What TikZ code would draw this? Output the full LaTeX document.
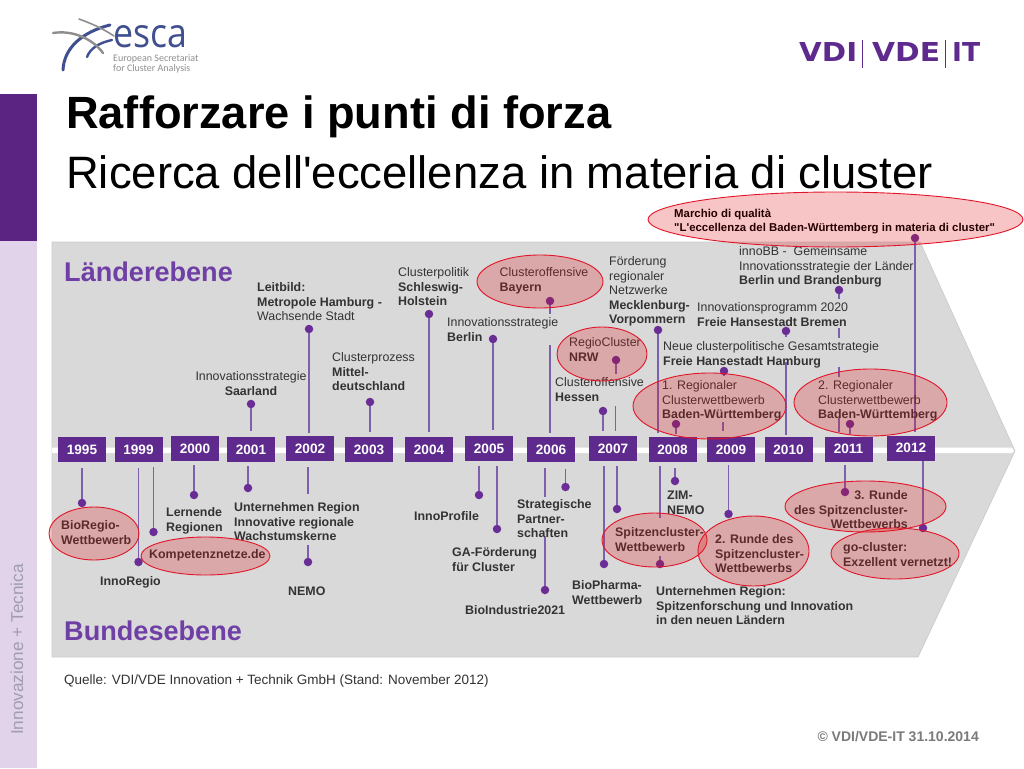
\documentclass[tikz,border=0pt]{standalone}
\usepackage{fontspec}
\usepackage{graphicx}
\setmainfont[Ligatures=TeXOff]{Liberation Sans}
\newfontfamily\logofont{Open Sans}
\newfontfamily\capfont{Carlito}
\newfontfamily\vdifont{DejaVu Sans}
\usetikzlibrary{shapes.geometric}
\definecolor{purpbox}{HTML}{5F2A8E}
\definecolor{purpbar}{HTML}{5B2483}
\definecolor{lilac}{HTML}{E0D3EA}
\definecolor{stemcol}{HTML}{7E5FAE}
\definecolor{dotcol}{HTML}{6A2D96}
\definecolor{headcol}{HTML}{6F3FA6}
\definecolor{txtcol}{HTML}{333333}
\definecolor{shapegrey}{HTML}{D9D9D9}
\definecolor{escablue}{HTML}{3F4F8F}
\definecolor{escagrey}{HTML}{8E8E8E}
\definecolor{sidegrey}{HTML}{A09EAE}
\definecolor{ovalfill}{HTML}{E01010}
\definecolor{ovalline}{HTML}{E21428}
\tikzset{
 yearbox/.style={fill=purpbox,text=white,font=\fontsize{13.6}{15}\selectfont\bfseries,minimum width=48pt,minimum height=25pt,inner sep=0pt},
 txt/.style={anchor=north west,inner sep=0pt,align=left,text=txtcol,yshift=6pt,font=\fontsize{12.4}{14.6}\selectfont},
 pindot/.style={circle,fill=dotcol,minimum size=8.5pt,inner sep=0pt},
 stem/.style={draw=stemcol,line width=1.7pt},
 oval/.style={ellipse,draw=ovalline,line width=0.9pt,fill=ovalfill,fill opacity=0.24,inner sep=0pt},
}
\newcommand{\yr}[3]{\node[yearbox] (y#1) at (#2,#3) {#1};}
\newcommand{\pinv}[4]{\node[pindot] (#1) at (#2,#3) {}; \coordinate (#1e) at (#2,#4); \draw[stem] (#1) -- (#1e);}
\newcommand{\segv}[4]{\coordinate (#1a) at (#2,#3); \coordinate (#1b) at (#2,#4); \draw[stem] (#1a) -- (#1b);}
\newcommand{\tx}[5][]{\node[txt,#1] (#2) at (#3,#4) {\strut #5};}
\newcommand{\ov}[5]{\node[oval,minimum width={#4-#3},minimum height={#5-#2}] (#1) at ({(#3+#4)/2},{(#2+#5)/2}) {};}
\begin{document}
\begin{tikzpicture}[x=1pt,y=-1pt]
\useasboundingbox (0,0) rectangle (1024,768);
\fill[white] (0,0) rectangle (1024,768);
% side bar
\fill[purpbar] (0,94) rectangle (37,241);
\fill[lilac] (0,241) rectangle (37,768);
\node[rotate=90,anchor=west,inner sep=0pt,text=sidegrey,font=\fontsize{17.2}{19}\selectfont] (side) at (17,735) {Innovazione + Tecnica};
% esca logo
\draw[escablue,line width=3pt,line cap=round] (63,70) .. controls (64,48) and (82,32) .. (110,25);
\draw[escablue,line width=2.4pt,line cap=round] (87,57) .. controls (90,49) and (98,43) .. (112,40);
\draw[escagrey,line width=2.4pt,line cap=round] (53,33) .. controls (72,30) and (92,38) .. (103,53);
\draw[escagrey,line width=1.6pt,line cap=round] (79,19) .. controls (90,23) and (102,28) .. (114,36);
\node[anchor=north west,align=left,inner sep=0pt,text=escagrey,font=\fontsize{10}{10}\selectfont\capfont] (esca) at (113,25) {\textcolor{escablue}{\resizebox{74pt}{22pt}{\logofont esca}}\\[4pt]European Secretariat\\for Cluster Analysis};
% VDI logo
\node[anchor=south west,inner sep=0pt,text=purpbox] (vdi) at (799,62) {\resizebox{58pt}{19pt}{\vdifont\bfseries VDI}};
\node[anchor=south west,inner sep=0pt,text=purpbox] (vde) at (872,62) {\resizebox{68pt}{19pt}{\vdifont\bfseries VDE}};
\node[anchor=south west,inner sep=0pt,text=purpbox] (vit) at (952,62) {\resizebox{28pt}{19pt}{\vdifont\bfseries IT}};
\draw[purpbox,line width=0.9pt] (862,40) -- (862,68);
\draw[purpbox,line width=0.9pt] (945,40) -- (945,68);
% title
\node[anchor=base west,inner sep=0pt,font=\fontsize{45.2}{48}\selectfont\bfseries] (title) at (66,128) {Rafforzare i punti di forza};
\node[anchor=base west,inner sep=0pt,font=\fontsize{45.4}{48}\selectfont] (subtitle) at (66,188) {Ricerca dell'eccellenza in materia di cluster};
% grey arrow
\draw[draw=black!20,fill=shapegrey,line width=0.7pt] (52,242) -- (920,242) -- (1015,451) -- (918,657) -- (52,657) -- cycle;
\fill[white] (52,447.5) -- (1012,447.5) -- (1014,451) -- (1012,453) -- (52,453) -- cycle;
\node[anchor=base west,inner sep=0pt,text=headcol,font=\fontsize{27.1}{29}\selectfont\bfseries] (laender) at (64,281) {Länderebene};
\node[anchor=base west,inner sep=0pt,text=headcol,font=\fontsize{27.1}{29}\selectfont\bfseries] (bund) at (64,640) {Bundesebene};
% years
\yr{1995}{82}{449.5}\yr{1999}{138.5}{449.5}\yr{2000}{195}{448.5}\yr{2001}{251}{449.5}
\yr{2002}{310}{448.5}\yr{2003}{369}{449.5}\yr{2004}{429}{449.5}\yr{2005}{489}{448.5}
\yr{2006}{551}{449.5}\yr{2007}{613}{448.5}\yr{2008}{672.5}{449.5}\yr{2009}{731}{449.5}
\yr{2010}{788.5}{449.5}\yr{2011}{848.5}{449}\yr{2012}{911}{448}
% upper stems
\pinv{u1}{251}{404}{431}
\pinv{u2}{309}{329}{433}
\pinv{u3}{370}{402}{432}
\pinv{u4}{429}{314}{432}
\pinv{u5}{493}{339}{430}
\pinv{u6}{550}{301}{314}
\segv{s6}{550}{345}{433}
\pinv{u7}{616}{360}{374}
\segv{s7}{615.6}{406}{431}
\pinv{u8}{603}{411}{431}
\pinv{u9}{658}{330}{433}
\pinv{u10}{724}{371}{375}
\segv{s10}{723}{422}{431}
\pinv{u11}{676}{424}{434}
\pinv{u12}{786}{331}{337}
\segv{s12}{786}{362}{435}
\pinv{u13}{839}{290}{299}
\segv{s13a}{839}{328}{338}
\segv{s13b}{839}{367}{377}
\segv{s13c}{839}{418}{432}
\pinv{u14}{850}{424}{434}
\pinv{u15}{915}{238}{432}
% lower stems
\pinv{d1}{82}{503}{468}
\pinv{d2}{138.5}{562}{468}
\pinv{d3}{153.5}{532}{467}
\pinv{d4}{194}{495}{465}
\pinv{d5}{248}{488}{466}
\segv{t6}{308}{467}{494}
\pinv{d6}{308}{562}{545}
\pinv{d7}{479}{495}{466}
\pinv{d8}{497}{529}{466}
\segv{t9}{545}{468}{497}
\pinv{d9}{545}{590}{537}
\pinv{d10}{565.5}{487}{469}
\pinv{d11}{604}{564}{466}
\pinv{d12}{617}{509}{466}
\segv{t13}{660}{466}{518}
\pinv{d13}{660}{564}{556}
\pinv{d14}{675}{481}{468}
\pinv{d15}{728.5}{514}{465}
\pinv{d16}{845}{492}{465}
\pinv{d17}{923}{528}{461}
% upper texts
\tx{a1}{257}{287}{\textbf{Leitbild:}\\\textbf{Metropole Hamburg -}\\Wachsende Stadt}
\tx{a2}{398}{272}{Clusterpolitik\\\textbf{Schleswig-}\\\textbf{Holstein}}
\tx{a3}{499.5}{272}{Clusteroffensive\\\textbf{Bayern}}
\tx{a4}{447}{322}{Innovationsstrategie\\\textbf{Berlin}}
\tx{a5}{332}{357}{Clusterprozess\\\textbf{Mittel-}\\\textbf{deutschland}}
\tx[anchor=north,align=center]{a6}{251}{376}{Innovationsstrategie\\\textbf{Saarland}}
\tx{a7}{569}{342}{RegioCluster\\\textbf{NRW}}
\tx{a8}{555}{382}{Clusteroffensive\\\textbf{Hessen}}
\tx{a9}{609}{261}{Förderung\\regionaler\\Netzwerke\\\textbf{Mecklenburg-}\\\textbf{Vorpommern}}
\tx{a10}{739}{251}{innoBB -\ \ Gemeinsame\\Innovationsstrategie der Länder\\\textbf{Berlin und Brandenburg}}
\tx{a11}{697}{307}{Innovationsprogramm 2020\\\textbf{Freie Hansestadt Bremen}}
\tx{a12}{663}{346}{Neue clusterpolitische Gesamtstrategie\\\textbf{Freie Hansestadt Hamburg}}
\tx{a13}{662}{385}{1. Regionaler\\Clusterwettbewerb\\\textbf{Baden-Württemberg}}
\tx{a14}{818}{385}{2. Regionaler\\Clusterwettbewerb\\\textbf{Baden-Württemberg}}
% lower texts
\tx{b1}{61}{525}{\textbf{BioRegio-}\\\textbf{Wettbewerb}}
\tx{b2}{100}{581}{\textbf{InnoRegio}}
\tx{b3}{149}{554}{\textbf{Kompetenznetze.de}}
\tx{b4}{166}{512}{\textbf{Lernende}\\\textbf{Regionen}}
\tx{b5}{234}{507}{\textbf{Unternehmen Region}\\\textbf{Innovative regionale}\\\textbf{Wachstumskerne}}
\tx{b6}{288}{591}{\textbf{NEMO}}
\tx{b7}{414}{516}{\textbf{InnoProfile}}
\tx{b8}{452}{552}{\textbf{GA-Förderung}\\\textbf{für Cluster}}
\tx{b9}{517}{504}{\textbf{Strategische}\\\textbf{Partner-}\\\textbf{schaften}}
\tx{b10}{465}{610}{\textbf{BioIndustrie2021}}
\tx{b11}{572}{585}{\textbf{BioPharma-}\\\textbf{Wettbewerb}}
\tx{b12}{667}{495}{\textbf{ZIM-}\\\textbf{NEMO}}
\tx{b13}{615}{532}{\textbf{Spitzencluster-}\\\textbf{Wettbewerb}}
\tx{b14}{715}{539}{\textbf{2. Runde des}\\\textbf{Spitzencluster-}\\\textbf{Wettbewerbs}}
\tx[anchor=north east,align=right]{b15}{908}{495}{\textbf{3. Runde}\\\textbf{des Spitzencluster-}\\\textbf{Wettbewerbs}}
\tx{b16}{843}{547}{\textbf{go-cluster:}\\\textbf{Exzellent vernetzt!}}
\tx{b17}{656}{591}{\textbf{Unternehmen Region:}\\\textbf{Spitzenforschung und Innovation}\\\textbf{in den neuen Ländern}}
\tx[font=\fontsize{13.5}{15}\selectfont]{src}{64}{680}{Quelle: VDI/VDE Innovation + Technik GmbH (Stand: November 2012)}
% ovals (over text, as in the picture)
\ov{o1}{192}{648}{1023}{247}
\ov{o2}{255}{477}{603}{308}
\ov{o3}{327}{557}{647}{381}
\ov{o4}{373}{633}{786}{439}
\ov{o5}{369}{794}{947}{436}
\ov{o6}{507}{49}{139}{560}
\ov{o7}{537}{141}{270}{575}
\ov{o8}{513}{602}{707}{567}
\ov{o9}{516}{698}{809}{586}
\ov{o10}{481}{785}{946}{532}
\ov{o11}{528}{831}{959}{579}
\node[txt,text=black!85!red,font=\fontsize{11.4}{14}\selectfont\bfseries] (m1) at (674,213) {\strut Marchio di qualità\\"L'eccellenza del Baden-Württemberg in materia di cluster"};
\node[anchor=east,inner sep=0pt,text=black!52,font=\fontsize{14}{16}\selectfont\bfseries] (copy) at (979,737) {© VDI/VDE-IT 31.10.2014};
\end{tikzpicture}
\end{document}
